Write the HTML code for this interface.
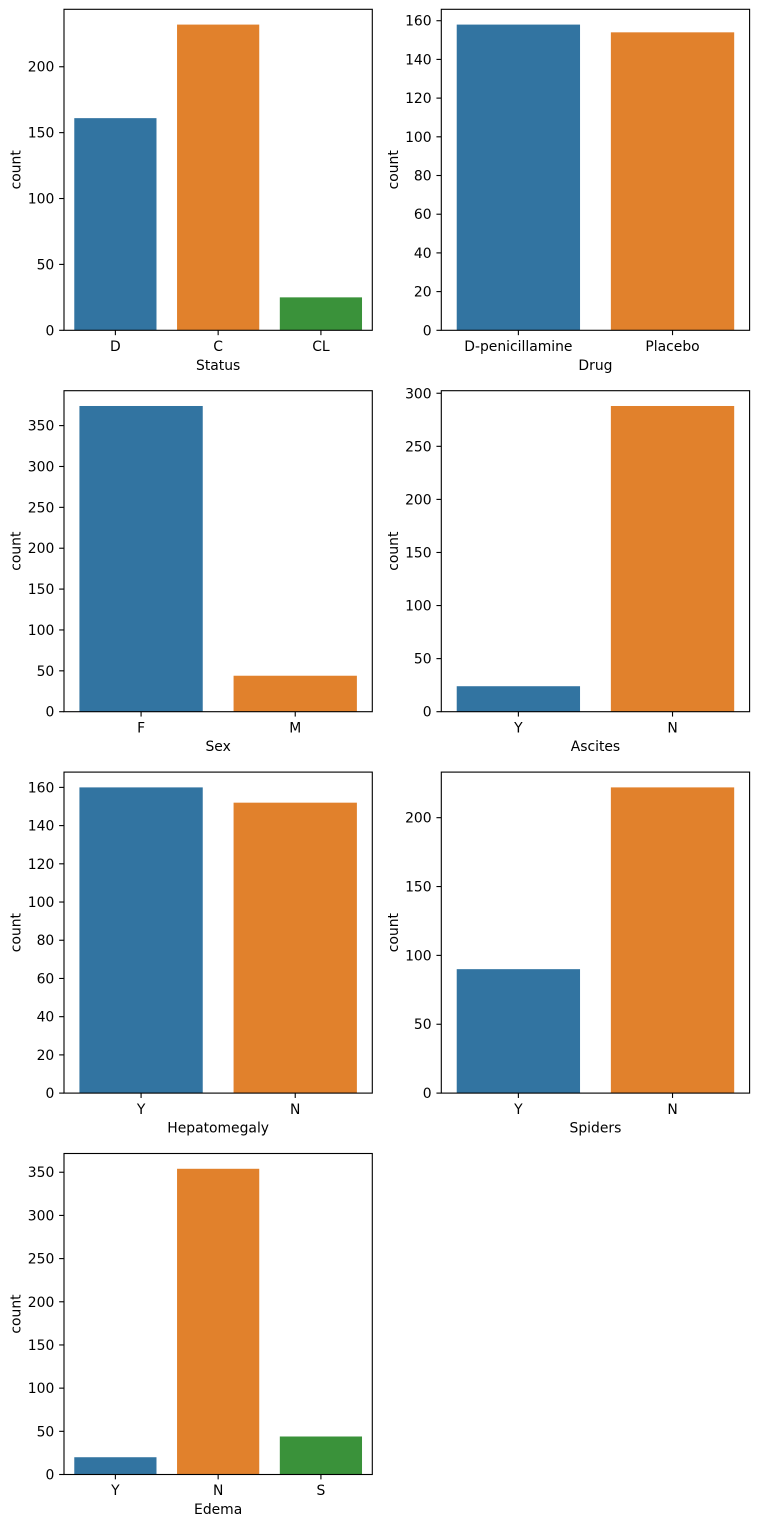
<!DOCTYPE html>
<html><head><meta charset="utf-8"><style>
html,body{margin:0;padding:0;background:#fff;}
svg{display:block;}
text{font-family:"DejaVu Sans","Liberation Sans",sans-serif;font-size:13.9px;fill:#000;}
.yt{text-anchor:end;}
.xt{text-anchor:middle;}
.fr{fill:none;stroke:#000;stroke-width:1.11;}
.tk{stroke:#000;stroke-width:1.11;}
.b{fill:#3274a1}.o{fill:#e1812c}.g{fill:#3a923a}
</style></head><body>
<svg width="758" height="1526" viewBox="0 0 758 1526" xmlns="http://www.w3.org/2000/svg">
<rect width="758" height="1526" fill="#fff"/>

<!-- Panel 1: Status -->
<g transform="translate(64,9.3)">
<rect class="b" x="10.28" y="108.85" width="82.21" height="212.15"/>
<rect class="o" x="113.04" y="15.29" width="82.21" height="305.71"/>
<rect class="g" x="215.81" y="288.06" width="82.21" height="32.94"/>
<rect class="fr" x="0" y="0" width="308.3" height="321"/>
<g class="tk">
<line x1="-4.86" x2="0" y1="321" y2="321"/><line x1="-4.86" x2="0" y1="255.11" y2="255.11"/><line x1="-4.86" x2="0" y1="189.23" y2="189.23"/><line x1="-4.86" x2="0" y1="123.34" y2="123.34"/><line x1="-4.86" x2="0" y1="57.45" y2="57.45"/>
<line x1="51.38" x2="51.38" y1="321" y2="325.86"/><line x1="154.15" x2="154.15" y1="321" y2="325.86"/><line x1="256.92" x2="256.92" y1="321" y2="325.86"/>
</g>
<text class="yt" x="-9.72" y="326">0</text><text class="yt" x="-9.72" y="260.11">50</text><text class="yt" x="-9.72" y="194.23">100</text><text class="yt" x="-9.72" y="128.34">150</text><text class="yt" x="-9.72" y="62.45">200</text>
<text class="xt" x="51.38" y="341.7">D</text><text class="xt" x="154.15" y="341.7">C</text><text class="xt" x="256.92" y="341.7">CL</text>
<text class="xt" x="154.15" y="360.5">Status</text>
<text class="xt" transform="translate(-43.3,160.5) rotate(-90)">count</text>
</g>

<!-- Panel 2: Drug -->
<g transform="translate(441.3,9.3)">
<rect class="b" x="15.42" y="15.29" width="123.32" height="305.71"/>
<rect class="o" x="169.57" y="23.03" width="123.32" height="297.97"/>
<rect class="fr" x="0" y="0" width="308.3" height="321"/>
<g class="tk">
<line x1="-4.86" x2="0" y1="321" y2="321"/><line x1="-4.86" x2="0" y1="282.30" y2="282.30"/><line x1="-4.86" x2="0" y1="243.60" y2="243.60"/><line x1="-4.86" x2="0" y1="204.91" y2="204.91"/><line x1="-4.86" x2="0" y1="166.21" y2="166.21"/><line x1="-4.86" x2="0" y1="127.51" y2="127.51"/><line x1="-4.86" x2="0" y1="88.81" y2="88.81"/><line x1="-4.86" x2="0" y1="50.11" y2="50.11"/><line x1="-4.86" x2="0" y1="11.42" y2="11.42"/>
<line x1="77.08" x2="77.08" y1="321" y2="325.86"/><line x1="231.23" x2="231.23" y1="321" y2="325.86"/>
</g>
<text class="yt" x="-9.72" y="326">0</text><text class="yt" x="-9.72" y="287.30">20</text><text class="yt" x="-9.72" y="248.60">40</text><text class="yt" x="-9.72" y="209.91">60</text><text class="yt" x="-9.72" y="171.21">80</text><text class="yt" x="-9.72" y="132.51">100</text><text class="yt" x="-9.72" y="93.81">120</text><text class="yt" x="-9.72" y="55.11">140</text><text class="yt" x="-9.72" y="16.42">160</text>
<text class="xt" x="77.08" y="341.7">D-penicillamine</text><text class="xt" x="231.23" y="341.7">Placebo</text>
<text class="xt" x="154.15" y="360.5">Drug</text>
<text class="xt" transform="translate(-43.3,160.5) rotate(-90)">count</text>
</g>

<!-- Panel 3: Sex -->
<g transform="translate(64,390.7)">
<rect class="b" x="15.42" y="15.29" width="123.32" height="305.71"/>
<rect class="o" x="169.57" y="285.03" width="123.32" height="35.97"/>
<rect class="fr" x="0" y="0" width="308.3" height="321"/>
<g class="tk">
<line x1="-4.86" x2="0" y1="321" y2="321"/><line x1="-4.86" x2="0" y1="280.13" y2="280.13"/><line x1="-4.86" x2="0" y1="239.26" y2="239.26"/><line x1="-4.86" x2="0" y1="198.39" y2="198.39"/><line x1="-4.86" x2="0" y1="157.52" y2="157.52"/><line x1="-4.86" x2="0" y1="116.65" y2="116.65"/><line x1="-4.86" x2="0" y1="75.78" y2="75.78"/><line x1="-4.86" x2="0" y1="34.90" y2="34.90"/>
<line x1="77.08" x2="77.08" y1="321" y2="325.86"/><line x1="231.23" x2="231.23" y1="321" y2="325.86"/>
</g>
<text class="yt" x="-9.72" y="326">0</text><text class="yt" x="-9.72" y="285.13">50</text><text class="yt" x="-9.72" y="244.26">100</text><text class="yt" x="-9.72" y="203.39">150</text><text class="yt" x="-9.72" y="162.52">200</text><text class="yt" x="-9.72" y="121.65">250</text><text class="yt" x="-9.72" y="80.78">300</text><text class="yt" x="-9.72" y="39.90">350</text>
<text class="xt" x="77.08" y="341.7">F</text><text class="xt" x="231.23" y="341.7">M</text>
<text class="xt" x="154.15" y="360.5">Sex</text>
<text class="xt" transform="translate(-43.3,160.5) rotate(-90)">count</text>
</g>

<!-- Panel 4: Ascites -->
<g transform="translate(441.3,390.7)">
<rect class="b" x="15.42" y="295.52" width="123.32" height="25.48"/>
<rect class="o" x="169.57" y="15.29" width="123.32" height="305.71"/>
<rect class="fr" x="0" y="0" width="308.3" height="321"/>
<g class="tk">
<line x1="-4.86" x2="0" y1="321" y2="321"/><line x1="-4.86" x2="0" y1="267.92" y2="267.92"/><line x1="-4.86" x2="0" y1="214.85" y2="214.85"/><line x1="-4.86" x2="0" y1="161.77" y2="161.77"/><line x1="-4.86" x2="0" y1="108.70" y2="108.70"/><line x1="-4.86" x2="0" y1="55.62" y2="55.62"/><line x1="-4.86" x2="0" y1="2.55" y2="2.55"/>
<line x1="77.08" x2="77.08" y1="321" y2="325.86"/><line x1="231.23" x2="231.23" y1="321" y2="325.86"/>
</g>
<text class="yt" x="-9.72" y="326">0</text><text class="yt" x="-9.72" y="272.92">50</text><text class="yt" x="-9.72" y="219.85">100</text><text class="yt" x="-9.72" y="166.77">150</text><text class="yt" x="-9.72" y="113.70">200</text><text class="yt" x="-9.72" y="60.62">250</text><text class="yt" x="-9.72" y="7.55">300</text>
<text class="xt" x="77.08" y="341.7">Y</text><text class="xt" x="231.23" y="341.7">N</text>
<text class="xt" x="154.15" y="360.5">Ascites</text>
<text class="xt" transform="translate(-43.3,160.5) rotate(-90)">count</text>
</g>

<!-- Panel 5: Hepatomegaly -->
<g transform="translate(64,772.1)">
<rect class="b" x="15.42" y="15.29" width="123.32" height="305.71"/>
<rect class="o" x="169.57" y="30.57" width="123.32" height="290.43"/>
<rect class="fr" x="0" y="0" width="308.3" height="321"/>
<g class="tk">
<line x1="-4.86" x2="0" y1="321" y2="321"/><line x1="-4.86" x2="0" y1="282.79" y2="282.79"/><line x1="-4.86" x2="0" y1="244.57" y2="244.57"/><line x1="-4.86" x2="0" y1="206.36" y2="206.36"/><line x1="-4.86" x2="0" y1="168.14" y2="168.14"/><line x1="-4.86" x2="0" y1="129.93" y2="129.93"/><line x1="-4.86" x2="0" y1="91.71" y2="91.71"/><line x1="-4.86" x2="0" y1="53.50" y2="53.50"/><line x1="-4.86" x2="0" y1="15.29" y2="15.29"/>
<line x1="77.08" x2="77.08" y1="321" y2="325.86"/><line x1="231.23" x2="231.23" y1="321" y2="325.86"/>
</g>
<text class="yt" x="-9.72" y="326">0</text><text class="yt" x="-9.72" y="287.79">20</text><text class="yt" x="-9.72" y="249.57">40</text><text class="yt" x="-9.72" y="211.36">60</text><text class="yt" x="-9.72" y="173.14">80</text><text class="yt" x="-9.72" y="134.93">100</text><text class="yt" x="-9.72" y="96.71">120</text><text class="yt" x="-9.72" y="58.50">140</text><text class="yt" x="-9.72" y="20.29">160</text>
<text class="xt" x="77.08" y="341.7">Y</text><text class="xt" x="231.23" y="341.7">N</text>
<text class="xt" x="154.15" y="360.5">Hepatomegaly</text>
<text class="xt" transform="translate(-43.3,160.5) rotate(-90)">count</text>
</g>

<!-- Panel 6: Spiders -->
<g transform="translate(441.3,772.1)">
<rect class="b" x="15.42" y="197.06" width="123.32" height="123.94"/>
<rect class="o" x="169.57" y="15.29" width="123.32" height="305.71"/>
<rect class="fr" x="0" y="0" width="308.3" height="321"/>
<g class="tk">
<line x1="-4.86" x2="0" y1="321" y2="321"/><line x1="-4.86" x2="0" y1="252.15" y2="252.15"/><line x1="-4.86" x2="0" y1="183.29" y2="183.29"/><line x1="-4.86" x2="0" y1="114.44" y2="114.44"/><line x1="-4.86" x2="0" y1="45.58" y2="45.58"/>
<line x1="77.08" x2="77.08" y1="321" y2="325.86"/><line x1="231.23" x2="231.23" y1="321" y2="325.86"/>
</g>
<text class="yt" x="-9.72" y="326">0</text><text class="yt" x="-9.72" y="257.15">50</text><text class="yt" x="-9.72" y="188.29">100</text><text class="yt" x="-9.72" y="119.44">150</text><text class="yt" x="-9.72" y="50.58">200</text>
<text class="xt" x="77.08" y="341.7">Y</text><text class="xt" x="231.23" y="341.7">N</text>
<text class="xt" x="154.15" y="360.5">Spiders</text>
<text class="xt" transform="translate(-43.3,160.5) rotate(-90)">count</text>
</g>

<!-- Panel 7: Edema -->
<g transform="translate(64,1153.5)">
<rect class="b" x="10.28" y="303.73" width="82.21" height="17.27"/>
<rect class="o" x="113.04" y="15.29" width="82.21" height="305.71"/>
<rect class="g" x="215.81" y="283.0" width="82.21" height="38.0"/>
<rect class="fr" x="0" y="0" width="308.3" height="321"/>
<g class="tk">
<line x1="-4.86" x2="0" y1="321" y2="321"/><line x1="-4.86" x2="0" y1="277.82" y2="277.82"/><line x1="-4.86" x2="0" y1="234.64" y2="234.64"/><line x1="-4.86" x2="0" y1="191.46" y2="191.46"/><line x1="-4.86" x2="0" y1="148.28" y2="148.28"/><line x1="-4.86" x2="0" y1="105.10" y2="105.10"/><line x1="-4.86" x2="0" y1="61.92" y2="61.92"/><line x1="-4.86" x2="0" y1="18.74" y2="18.74"/>
<line x1="51.38" x2="51.38" y1="321" y2="325.86"/><line x1="154.15" x2="154.15" y1="321" y2="325.86"/><line x1="256.92" x2="256.92" y1="321" y2="325.86"/>
</g>
<text class="yt" x="-9.72" y="326">0</text><text class="yt" x="-9.72" y="282.82">50</text><text class="yt" x="-9.72" y="239.64">100</text><text class="yt" x="-9.72" y="196.46">150</text><text class="yt" x="-9.72" y="153.28">200</text><text class="yt" x="-9.72" y="110.10">250</text><text class="yt" x="-9.72" y="66.92">300</text><text class="yt" x="-9.72" y="23.74">350</text>
<text class="xt" x="51.38" y="341.7">Y</text><text class="xt" x="154.15" y="341.7">N</text><text class="xt" x="256.92" y="341.7">S</text>
<text class="xt" x="154.15" y="360.5">Edema</text>
<text class="xt" transform="translate(-43.3,160.5) rotate(-90)">count</text>
</g>
</svg>
</body></html>
